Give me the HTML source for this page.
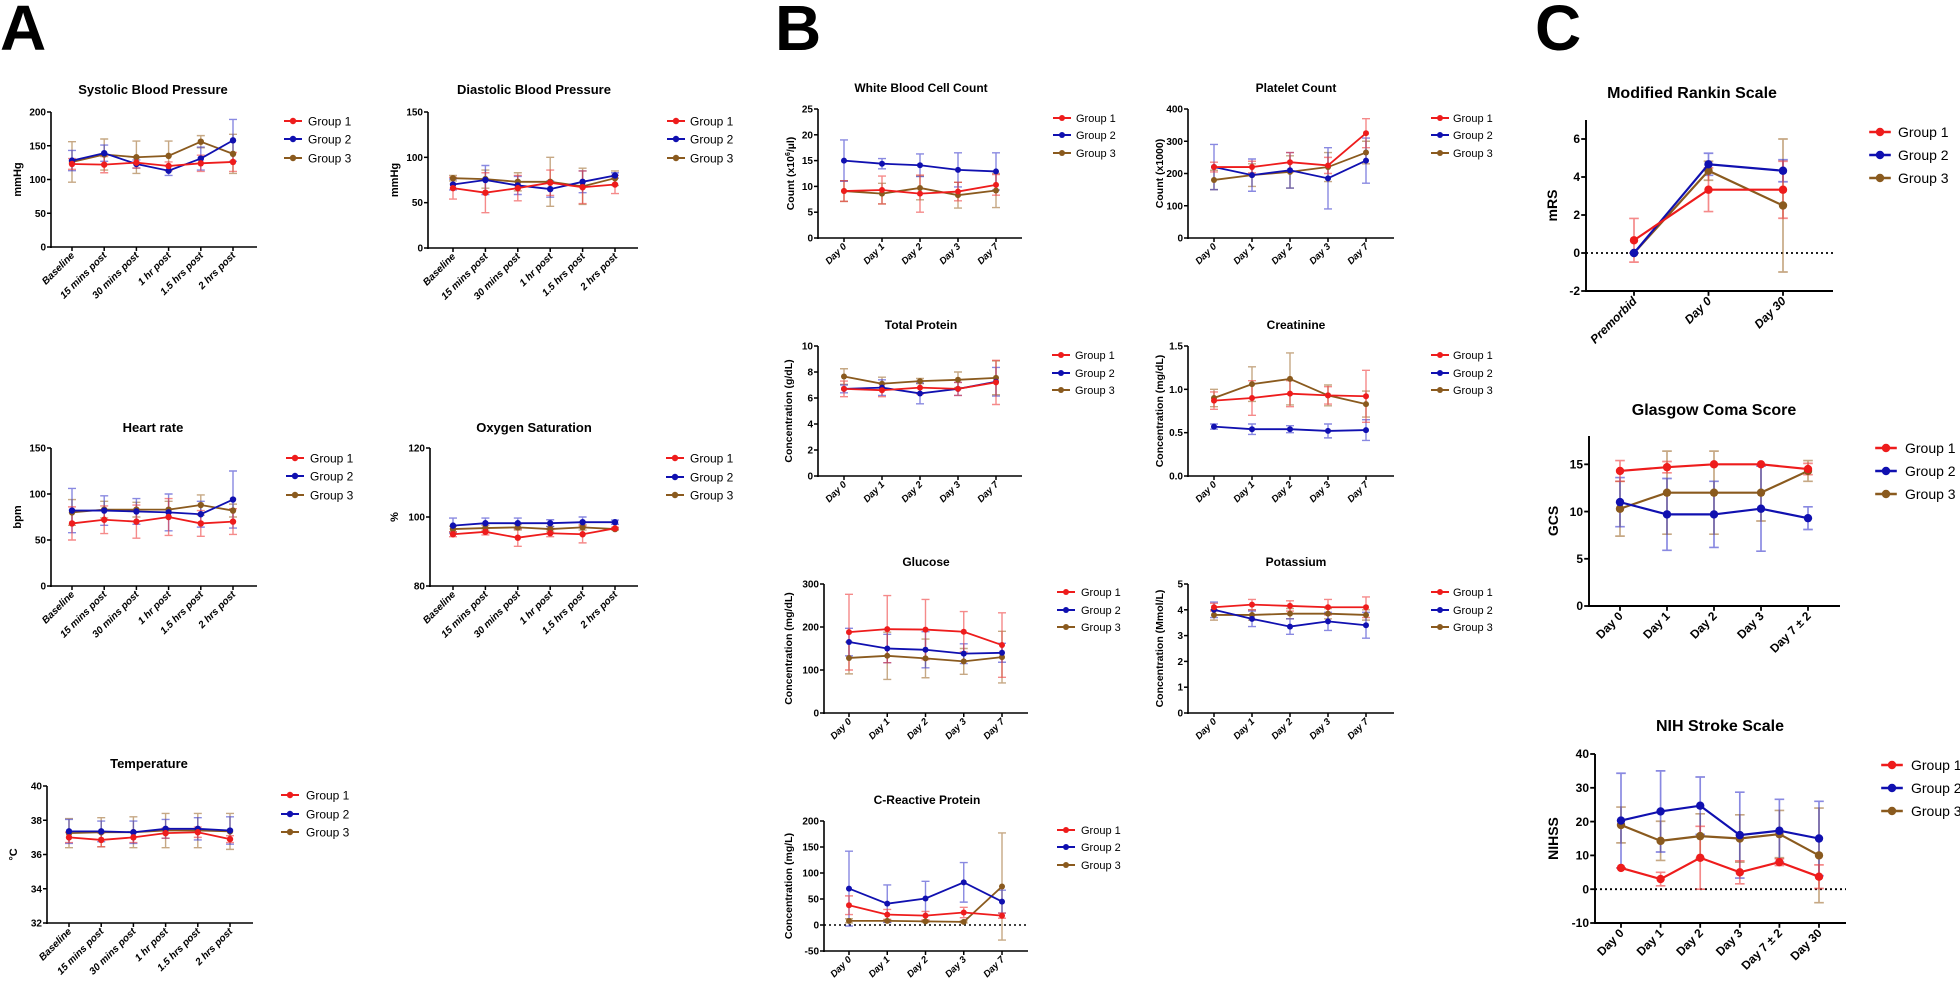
<!DOCTYPE html>
<html><head><meta charset="utf-8"><style>
html,body{margin:0;padding:0;background:#fff;}
svg{display:block;font-family:"Liberation Sans",Arial,sans-serif;}
</style></head><body>
<svg id="s" width="1960" height="984" viewBox="0 0 1960 984" xmlns="http://www.w3.org/2000/svg">
<text x="0" y="50" font-size="64" font-weight="bold">A</text>
<text x="775" y="50" font-size="64" font-weight="bold">B</text>
<text x="1535" y="50" font-size="64" font-weight="bold">C</text>
</svg>
<script>
const C=['#ee1c1c','#1010b0','#8a5a1e'];
const EC=['rgba(238,60,60,0.6)','rgba(40,40,200,0.55)','rgba(160,110,50,0.6)'];
const svg=document.getElementById('s');
let out='';
const A6=['Baseline','15 mins post','30 mins post','1 hr post','1.5 hrs post','2 hrs post'];
const D5=['Day 0','Day 1','Day 2','Day 3','Day 7'];
function panel(p){
  const s=p.s||1; // scale for fonts
  const yv=v=>p.yb-(v-p.ymin)/(p.ymax-p.ymin)*(p.yb-p.yt);
  const n=p.x.length, step=(p.xl-p.x0)/(n-1);
  const xs=i=>p.x0+i*step;
  const ytop=p.ytopv!==undefined?yv(p.ytopv):p.yt;
  let o='';
  o+=`<text x="${p.tc}" y="${p.ty}" font-size="${p.tf}" font-weight="bold" text-anchor="middle">${p.title}</text>`;
  o+=`<line x1="${p.ax}" y1="${ytop}" x2="${p.ax}" y2="${p.yb+1}" stroke="#000" stroke-width="${1.6*s}"/>`;
  o+=`<line x1="${p.ax-1}" y1="${p.yb}" x2="${p.ae}" y2="${p.yb}" stroke="#000" stroke-width="${1.6*s}"/>`;
  const ticks=p.ticks;
  ticks.forEach(t=>{const y=yv(t);
    o+=`<line x1="${p.ax-4*s}" y1="${y}" x2="${p.ax}" y2="${y}" stroke="#000" stroke-width="${1.5*s}"/>`;
    o+=`<text x="${p.ax-5*s}" y="${y+3.5*s}" font-size="${p.kf}" font-weight="bold" text-anchor="end">${p.fmt?p.fmt(t):t}</text>`;});
  if(p.zero){const y=yv(0);o+=`<line x1="${p.ax}" y1="${y}" x2="${p.ae}" y2="${y}" stroke="#000" stroke-width="${1.5*s}" stroke-dasharray="2,3"/>`;}
  p.x.forEach((l,i)=>{const x=xs(i);
    o+=`<line x1="${x}" y1="${p.yb}" x2="${x}" y2="${p.yb+4*s}" stroke="#000" stroke-width="${1.5*s}"/>`;
    o+=`<text transform="translate(${x+3*s},${p.yb+9*s}) rotate(-45)" font-size="${p.xf}" font-weight="bold" font-style="${p.it?'italic':'normal'}" text-anchor="end">${l}</text>`;});
  const yc=(p.yt+p.yb)/2;
  o+=`<text transform="translate(${p.ylx},${yc}) rotate(-90)" font-size="${p.lf}" font-weight="bold" text-anchor="middle">${p.yl}</text>`;
  // series
  [2,1,0].forEach(g=>{const d=p.d[g],e=p.e[g];
    d.forEach((v,i)=>{if(v===null)return;const x=xs(i),er=e[i]||0;
      const y1=yv(v+er),y2=yv(v-er),cw=4*s;
      o+=`<path d="M${x},${y1}V${y2}M${x-cw},${y1}H${x+cw}M${x-cw},${y2}H${x+cw}" stroke="${EC[g]}" stroke-width="${1.4*s}" fill="none"/>`;});});
  [2,1,0].forEach(g=>{const d=p.d[g];
    let pts=d.map((v,i)=>v===null?null:`${xs(i)},${yv(v)}`).filter(a=>a);
    o+=`<polyline points="${pts.join(' ')}" fill="none" stroke="${C[g]}" stroke-width="${1.8*s}"/>`;
    d.forEach((v,i)=>{if(v===null)return;o+=`<circle cx="${xs(i)}" cy="${yv(v)}" r="${p.mr}" fill="${C[g]}"/>`;});});
  // legend
  p.lr.forEach((ly,g)=>{
    o+=`<line x1="${p.lm-9*s}" y1="${ly}" x2="${p.lm+9*s}" y2="${ly}" stroke="${C[g]}" stroke-width="${2*s}"/>`;
    o+=`<circle cx="${p.lm}" cy="${ly}" r="${p.mr}" fill="${C[g]}"/>`;
    o+=`<text x="${p.lt}" y="${ly+p.gf*0.36}" font-size="${p.gf}">Group ${g+1}</text>`;});
  return o;
}
function A(o){return Object.assign({x:A6,tf:13,kf:10,xf:10,lf:11,gf:12,mr:3.2,it:true},o);}
function B(o){return Object.assign({x:D5,tf:12,kf:10,xf:9.5,lf:10.5,gf:11,mr:3,it:true},o);}
const P=[
A({title:'Systolic Blood Pressure',tc:153,ty:94,ax:51,ae:257,yt:112,yb:247,ymin:0,ymax:200,ticks:[0,50,100,150,200],x0:72,xl:233,ylx:21,yl:'mmHg',lm:293,lt:308,lr:[121,139,158],
 d:[[123,122,125,120,124,126],[128,139,123,113,131,158],[126,137,133,135,156,138]],
 e:[[8,12,8,6,12,14],[15,12,6,7,17,31],[30,23,24,22,9,29]]}),
A({title:'Diastolic Blood Pressure',tc:534,ty:94,ax:428,ae:638,yt:112,yb:248,ymin:0,ymax:150,ticks:[0,50,100,150],x0:453,xl:615,ylx:398,yl:'mmHg',lm:676,lt:690,lr:[121,139,158],
 d:[[66,61,66,72,67,70],[70,75,69,65,73,80],[77,76,73,73,68,77]],
 e:[[12,22,14,14,18,10],[6,16,10,9,12,3],[3,10,10,27,20,8]]}),
A({title:'Heart rate',tc:153,ty:432,ax:51,ae:257,yt:448,yb:586,ymin:0,ymax:150,ticks:[0,50,100,150],x0:72,xl:233,ylx:21,yl:'bpm',lm:295,lt:310,lr:[458,476,495],
 d:[[68,72,70,75,68,70],[82,82,81,80,78,94],[80,83,83,83,88,82]],
 e:[[18,15,18,20,14,14],[24,16,14,20,14,31],[14,9,8,9,11,7]]}),
A({title:'Oxygen Saturation',tc:534,ty:432,ax:430,ae:638,yt:448,yb:586,ymin:80,ymax:120,ticks:[80,100,120],x0:453,xl:615,ylx:398,yl:'%',lm:675,lt:690,lr:[458,477,495],
 d:[[95,95.7,94,95.3,95,96.7],[97.5,98.2,98.2,98.2,98.5,98.5],[96.5,96.8,97,96.5,97,96.5]],
 e:[[0.7,0.9,2.5,1,2.5,0.3],[2.2,1.5,1.5,1,1.5,0.6],[0.8,0.8,0.8,0.8,0.8,0.3]]}),
A({title:'Temperature',tc:149,ty:768,ax:47,ae:253,yt:786,yb:923,ymin:32,ymax:40,ticks:[32,34,36,38,40],x0:69,xl:230,ylx:17,yl:'°C',lm:290,lt:306,lr:[795,814,832],
 d:[[37.0,36.85,37.0,37.25,37.3,36.9],[37.35,37.35,37.3,37.5,37.5,37.4],[37.25,37.3,37.3,37.4,37.4,37.35]],
 e:[[0.3,0.4,0.3,0.3,0.3,0.2],[0.7,0.6,0.65,0.55,0.65,0.8],[0.85,0.85,0.9,1.0,1.0,1.05]]}),
B({title:'White Blood Cell Count',tc:921,ty:92,ax:818,ae:1022,yt:109,yb:238,ymin:0,ymax:25,ticks:[0,5,10,15,20,25],x0:844,xl:996,ylx:794,yl:'Count (x10<tspan font-size="7" dy="-4">6</tspan><tspan dy="4">/µl)</tspan>',lm:1062,lt:1076,lr:[118,135,153],
 d:[[9.1,9.3,8.6,9.0,10.3],[15,14.4,14.1,13.2,12.9],[9.1,8.6,9.7,8.3,9.2]],
 e:[[2,2.7,3.6,1.8,2],[4,1,2.2,3.3,3.6],[2,2,2.3,2.5,3.3]]}),
B({title:'Platelet Count',tc:1296,ty:92,ax:1188,ae:1394,yt:109,yb:238,ymin:0,ymax:400,ticks:[0,100,200,300,400],x0:1214,xl:1366,ylx:1163,yl:'Count (x1000)',lm:1440,lt:1453,lr:[118,135,153],
 d:[[220,220,235,225,325],[220,195,210,185,240],[180,195,205,220,265]],
 e:[[15,18,30,25,45],[70,50,55,95,70],[30,35,50,45,35]]}),
B({title:'Total Protein',tc:921,ty:329,ax:818,ae:1022,yt:346,yb:476,ymin:0,ymax:10,ticks:[0,2,4,6,8,10],x0:844,xl:996,ylx:792,yl:'Concentration (g/dL)',lm:1061,lt:1075,lr:[355,373,390],
 d:[[6.7,6.6,6.8,6.7,7.2],[6.7,6.8,6.35,6.7,7.25],[7.65,7.1,7.3,7.4,7.55]],
 e:[[0.6,0.5,0.5,0.5,1.7],[0.3,0.6,0.8,0.5,1.1],[0.6,0.5,0.2,0.6,1.3]]}),
B({title:'Creatinine',tc:1296,ty:329,ax:1188,ae:1394,yt:346,yb:476,ymin:0,ymax:1.5,ticks:[0,0.5,1,1.5],fmt:t=>t.toFixed(1),x0:1214,xl:1366,ylx:1163,yl:'Concentration (mg/dL)',lm:1440,lt:1453,lr:[355,373,390],
 d:[[.87,.9,.95,.93,.92],[.57,.54,.54,.52,.53],[.9,1.06,1.12,.93,.83]],
 e:[[.1,.2,.15,.1,.3],[.03,.06,.04,.08,.12],[.1,.2,.3,.12,.15]]}),
B({title:'Glucose',tc:926,ty:566,ax:824,ae:1028,yt:584,yb:713,ymin:0,ymax:300,ticks:[0,100,200,300],x0:849,xl:1002,ylx:792,yl:'Concentration (mg/dL)',lm:1066,lt:1081,lr:[592,610,627],
 d:[[188,195,194,189,158],[165,150,147,138,140],[128,133,127,120,130]],
 e:[[88,78,70,47,75],[32,33,42,23,22],[37,55,45,30,60]]}),
B({title:'Potassium',tc:1296,ty:566,ax:1188,ae:1394,yt:584,yb:713,ymin:0,ymax:5,ticks:[0,1,2,3,4,5],x0:1214,xl:1366,ylx:1163,yl:'Concentration (Mmol/L)',lm:1440,lt:1453,lr:[592,610,627],
 d:[[4.1,4.2,4.15,4.1,4.1],[4.0,3.65,3.35,3.55,3.4],[3.8,3.8,3.85,3.85,3.8]],
 e:[[0.15,0.2,0.2,0.3,0.4],[0.3,0.3,0.3,0.35,0.5],[0.2,0.2,0.2,0.2,0.2]]}),
B({title:'C-Reactive Protein',tc:927,ty:804,ax:824,ae:1028,yt:821,yb:951,ymin:-50,ymax:200,ticks:[-50,0,50,100,150,200],zero:true,x0:849,xl:1002,ylx:792,yl:'Concentration (mg/L)',lm:1066,lt:1081,lr:[830,847,865],
 d:[[38,20,18,24,18],[70,41,51,82,45],[8,8,7,6,74]],
 e:[[18,10,8,10,5],[72,36,33,38,22],[4,3,2,2,103]]}),
{title:'Modified Rankin Scale',tc:1692,ty:98,tf:16,ax:1586,ae:1833,yt:120,ytopv:7,yb:291,ymin:-2,ymax:7,ticks:[-2,0,2,4,6],zero:true,x:['Premorbid','Day 0','Day 30'],x0:1634,xl:1783,ylx:1557,yl:'mRS',lf:14,kf:12,xf:12,gf:14,mr:4.2,s:1.2,it:true,lm:1880,lt:1898,lr:[132,155,178],
 d:[[0.67,3.33,3.33],[0,4.67,4.33],[0,4.33,2.5]],e:[[1.15,1.15,1.5],[0,0.58,0.58],[0,0.5,3.5]]},
{title:'Glasgow Coma Score',tc:1714,ty:415,tf:16,ax:1589,ae:1840,yt:436,ytopv:18,yb:606,ymin:0,ymax:18,ticks:[0,5,10,15],x:['Day 0','Day 1','Day 2','Day 3','Day 7 ± 2'],x0:1620,xl:1808,ylx:1558,yl:'GCS',lf:14,kf:12,xf:12,gf:14,mr:4.2,s:1.2,it:false,lm:1886,lt:1905,lr:[448,471,494],
 d:[[14.3,14.7,15,15,14.5],[11,9.7,9.7,10.3,9.3],[10.3,12,12,12,14.3]],e:[[1.1,0.6,0,0,0.6],[2.6,3.8,3.5,4.5,1.2],[2.9,4.4,4.4,3,1.1]]},
{title:'NIH Stroke Scale',tc:1720,ty:731,tf:16,ax:1595,ae:1846,yt:754,yb:923,ymin:-10,ymax:40,ticks:[-10,0,10,20,30,40],zero:true,x:['Day 0','Day 1','Day 2','Day 3','Day 7 ± 2','Day 30'],x0:1621,xl:1819,ylx:1558,yl:'NIHSS',lf:14,kf:12,xf:12,gf:14,mr:4.2,s:1.2,it:false,lm:1892,lt:1911,lr:[765,788,811],
 d:[[6.3,3,9.3,5,8,3.7],[20.3,23,24.7,16,17.3,15],[19,14.3,15.7,15,16.3,10]],e:[[0,2,9.3,3.4,1,3.5],[14,12,8.5,12.7,9.3,11],[5.3,5.8,6.6,7,7,14]]}
];
P.forEach(p=>out+=panel(p));
svg.insertAdjacentHTML('beforeend',out);
</script>
</body></html>
